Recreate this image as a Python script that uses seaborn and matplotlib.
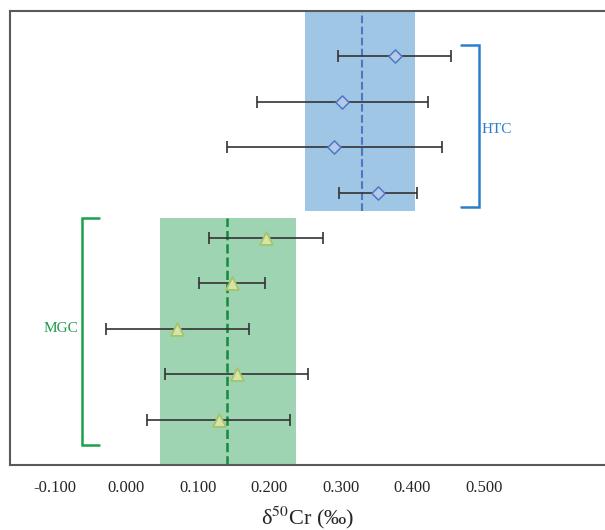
import numpy as np
import pandas as pd
import seaborn as sns
import matplotlib.pyplot as plt

# HTC samples (top group), rows 9..6
htc_row = [9, 8, 7, 6]
htc_val = [0.375, 0.302, 0.291, 0.352]
htc_err = [0.079, 0.120, 0.150, 0.055]
htc_mean = 0.330
htc_band = [0.250, 0.404]

# MGC samples (bottom group), rows 5..1
mgc_row = [5, 4, 3, 2, 1]
mgc_val = [0.195, 0.148, 0.071, 0.154, 0.129]
mgc_err = [0.080, 0.046, 0.100, 0.100, 0.100]
mgc_mean = 0.140
mgc_band = [0.047, 0.237]

xticks = [-0.1, 0.0, 0.1, 0.2, 0.3, 0.4, 0.5]

sns.set_style('white')
plt.rcParams['font.family'] = ['Liberation Serif', 'DejaVu Serif']
plt.rcParams['mathtext.fontset'] = 'stix'

df = pd.DataFrame({
    'row': htc_row + mgc_row,
    'd50Cr': htc_val + mgc_val,
    'err': htc_err + mgc_err,
    'group': ['HTC'] * len(htc_row) + ['MGC'] * len(mgc_row),
})

fig = plt.figure(figsize=(6.05, 5.3), dpi=100)
ax = fig.add_axes([10 / 605, 65 / 530, 1 - 10 / 605, 454 / 530])

# shaded ranges + means
ax.fill_betweenx([5.6, 10], htc_band[0], htc_band[1], color='#9fc6e4', lw=0, zorder=0)
ax.fill_betweenx([0, 5.43], mgc_band[0], mgc_band[1], color='#9fd4b3', lw=0, zorder=0)
ax.plot([htc_mean, htc_mean], [5.6, 10], ls='--', color='#4a78c4', lw=1.5, zorder=1)
ax.plot([mgc_mean, mgc_mean], [0, 5.43], ls='--', color='#138a3c', lw=1.8, zorder=1)

# error bars
ax.errorbar(df['d50Cr'], df['row'], xerr=df['err'], fmt='none', ecolor='#333333',
            elinewidth=1.2, capsize=4.5, capthick=1.2, zorder=2)

sns.scatterplot(data=df[df.group == 'HTC'], x='d50Cr', y='row', marker='D', s=45,
                color='#b6c9e8', edgecolor='#4e78c6', linewidth=1.1, ax=ax, zorder=3)
sns.scatterplot(data=df[df.group == 'MGC'], x='d50Cr', y='row', marker='^', s=85,
                color='#d7e4a6', edgecolor='#a7c36a', linewidth=1.3, ax=ax, zorder=3)

# group brackets
ax.plot([0.468, 0.493, 0.493, 0.468], [9.25, 9.25, 5.69, 5.69], color='#2a7fcc', lw=1.8,
        solid_joinstyle='miter', clip_on=False)
ax.text(0.518, 7.4, 'HTC', color='#2a7fcc', fontsize=11, ha='center', va='center')
ax.plot([-0.038, -0.0626, -0.0626, -0.038], [5.43, 5.43, 0.43, 0.43], color='#1aa04a', lw=1.8,
        solid_joinstyle='miter', clip_on=False)
ax.text(-0.092, 3.0, 'MGC', color='#1a9b48', fontsize=11, ha='center', va='center')

ax.set_xlim(-0.163, 0.6695)
ax.set_ylim(0, 10)
ax.set_xticks(xticks)
ax.set_xticklabels([f'{t:.3f}' for t in xticks], fontsize=12)
ax.set_yticks([])
ax.set_ylabel('')
ax.set_xlabel('δ$^{50}$Cr (‰)', fontsize=16, labelpad=6)
ax.tick_params(axis='x', direction='out', length=5, width=1.2, color='#595959', pad=6)

for side in ['left', 'top', 'bottom']:
    ax.spines[side].set_color('#595959')
    ax.spines[side].set_linewidth(1.5)
ax.spines['right'].set_visible(False)

plt.savefig('out.png', dpi=100)
